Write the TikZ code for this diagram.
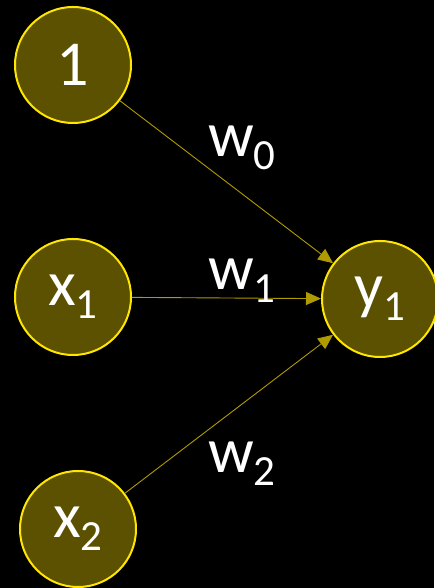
\documentclass[tikz,border=0pt]{standalone}
\usepackage{fontspec}
\setmainfont{Carlito}
\usepackage{tikz}
\usetikzlibrary{arrows.meta}
\definecolor{oro}{RGB}{255,230,0}
\definecolor{oliva}{RGB}{92,81,0}
\definecolor{filo}{RGB}{175,155,0}
\newcommand{\pedice}[1]{\raisebox{-13pt}{\fontsize{43}{43}\selectfont #1}}

\begin{document}
\begin{tikzpicture}[x=1pt,y=1pt,
  neurone/.style={circle,draw=oro,fill=oliva,line width=2pt,minimum size=116pt,
    inner sep=0pt,text=white,font=\fontsize{64}{64}\selectfont},
  arco/.style={draw=filo,line width=0.9pt,-{Triangle[length=15pt,width=13pt]}},
  peso/.style={text=white,anchor=base west,inner sep=0pt,font=\fontsize{64}{64}\selectfont}]
  % sfondo
  \fill[black] (0,0) rectangle (434,588);
  \useasboundingbox (0,0) rectangle (434,588);

  % nodi
  \node[neurone] (uno) at (73,523) {1};
  \node[neurone] (x1) at (73,291) {x\pedice{1}};
  \node[neurone] (x2) at (78,59) {x\pedice{2}};
  \node[neurone] (y1) at (380,289) {y\pedice{1}};

  % archi
  \draw[arco] (uno) -- (y1);
  \draw[arco] (x1) -- (y1);
  \draw[arco] (x2) -- (y1);

  % pesi
  \node[peso] (w0) at (208,431) {w\pedice{0}};
  \node[peso] (w1) at (208,298) {w\pedice{1}};
  \node[peso] (w2) at (208,115) {w\pedice{2}};
\end{tikzpicture}
\end{document}
